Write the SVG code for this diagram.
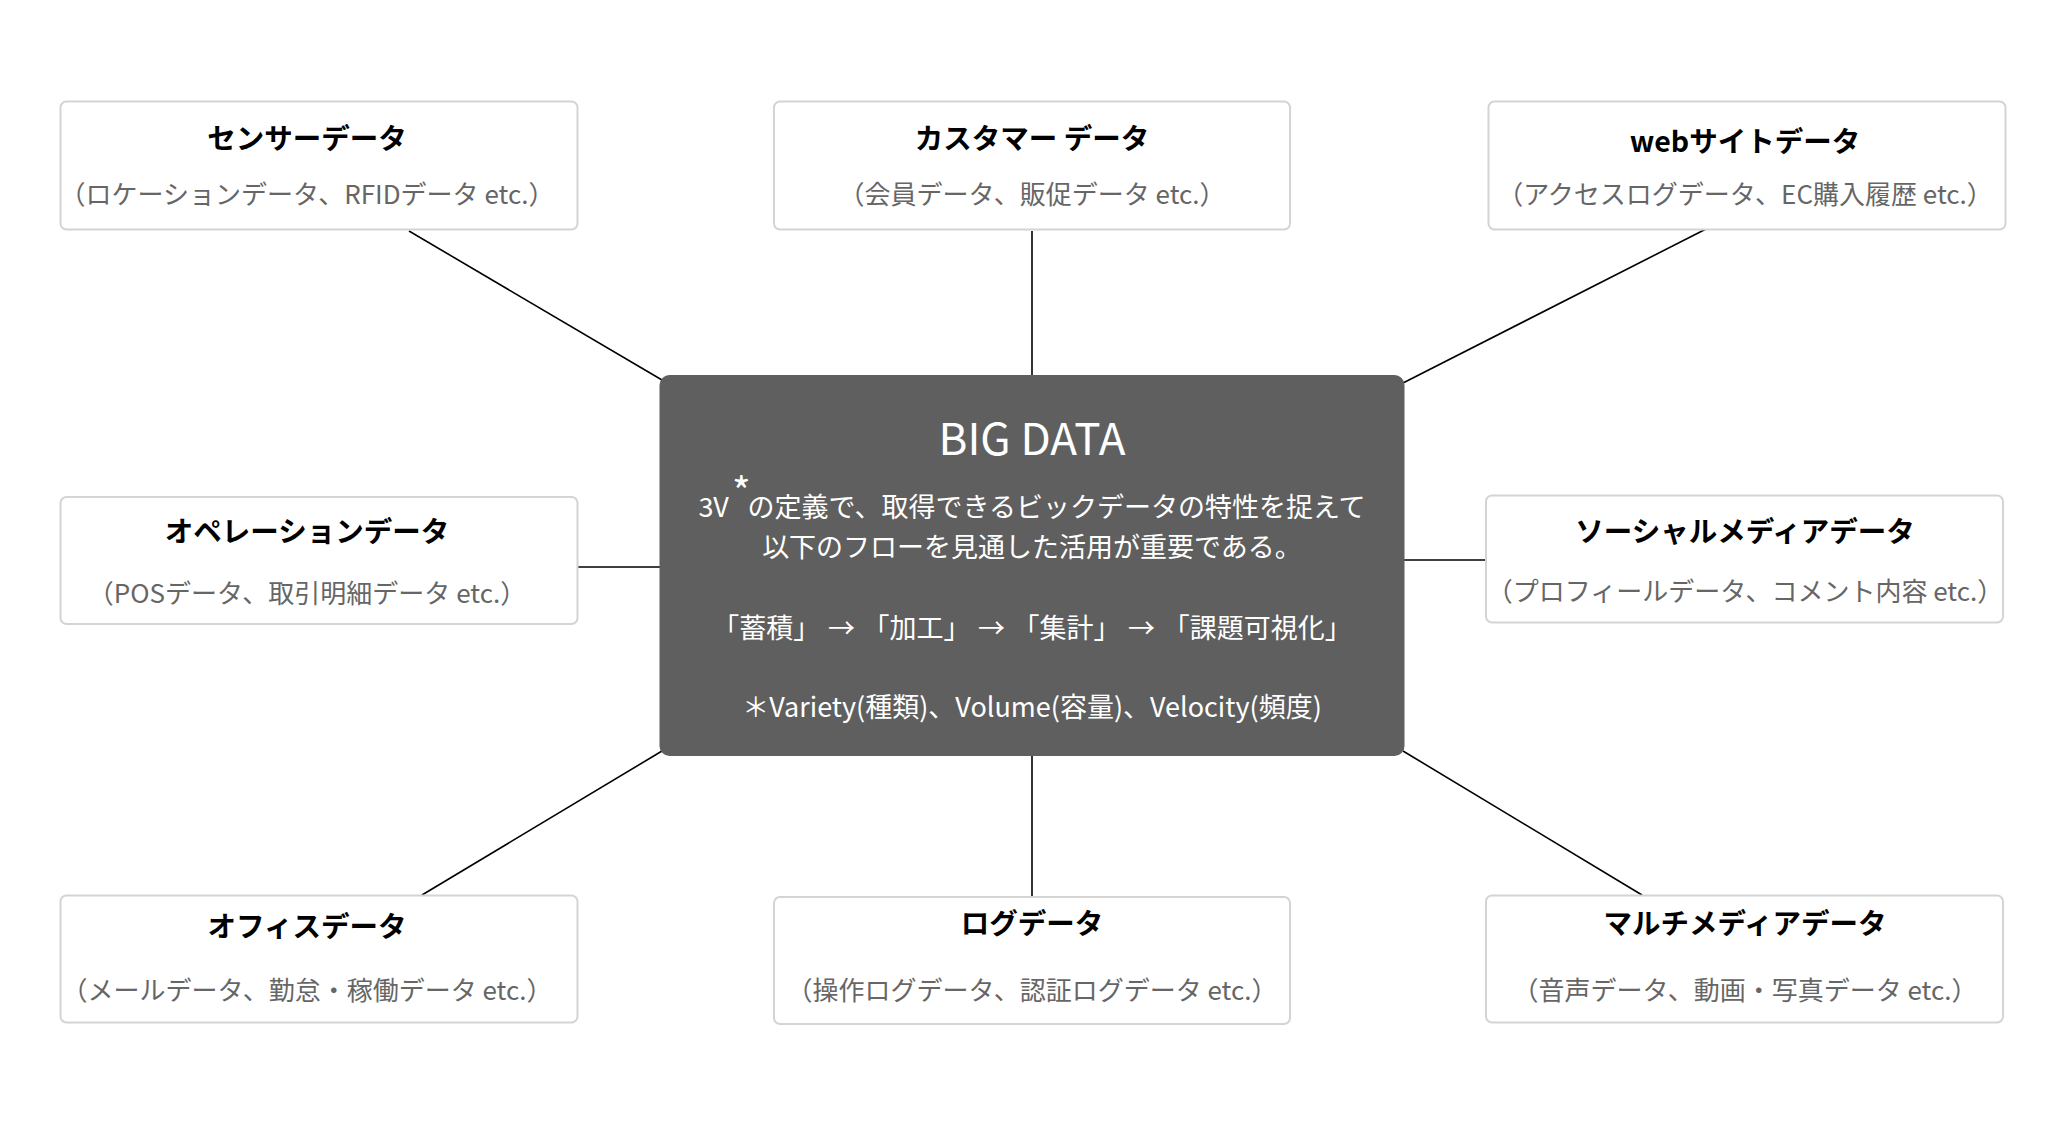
<svg xmlns="http://www.w3.org/2000/svg" width="2056" height="1140" viewBox="0 0 2056 1140">
<style>
text{font-family:"Noto Sans CJK JP","Noto Sans",sans-serif;text-anchor:middle}
.box{fill:#fff;stroke:#d4d4d4;stroke-width:2}
.t{font-size:28.5px;font-weight:700;fill:#000}
.s{font-size:26px;fill:#666}
.c{font-size:27px;fill:#fff}
.conn line{stroke:#000;stroke-width:1.6}
</style>
<rect width="2056" height="1140" fill="#fff"/>
<g class="conn" id="connectors">
<line x1="409" y1="231" x2="662" y2="380"/>
<line x1="1032" y1="231" x2="1032" y2="376"/>
<line x1="1706" y1="229" x2="1403" y2="383"/>
<line x1="578" y1="567" x2="660" y2="567"/>
<line x1="1404" y1="560" x2="1486" y2="560"/>
<line x1="422" y1="895" x2="662" y2="751"/>
<line x1="1032" y1="755" x2="1032" y2="897"/>
<line x1="1403" y1="751" x2="1642" y2="895"/>
</g>
<g id="sensor">
<rect class="box" x="60.5" y="101.5" width="517" height="128" rx="6"/>
<text class="t" x="307" y="149">センサーデータ</text>
<text class="s" x="307" y="204">（ロケーションデータ、RFIDデータ etc.）</text>
</g>
<g id="customer">
<rect class="box" x="774" y="101.5" width="516" height="128" rx="6"/>
<text class="t" x="1032" y="149">カスタマー データ</text>
<text class="s" x="1032" y="204">（会員データ、販促データ etc.）</text>
</g>
<g id="web">
<rect class="box" x="1488.5" y="101.5" width="517" height="128" rx="6"/>
<text class="t" x="1745" y="151.5">webサイトデータ</text>
<text class="s" x="1745" y="204">（アクセスログデータ、EC購入履歴 etc.）</text>
</g>
<g id="operation">
<rect class="box" x="60.5" y="497" width="517" height="127" rx="6"/>
<text class="t" x="307" y="542">オペレーションデータ</text>
<text class="s" x="307" y="602.5">（POSデータ、取引明細データ etc.）</text>
</g>
<g id="social">
<rect class="box" x="1486" y="495.5" width="517" height="127" rx="6"/>
<text class="t" x="1745" y="542">ソーシャルメディアデータ</text>
<text class="s" x="1745" y="601">（プロフィールデータ、コメント内容 etc.）</text>
</g>
<g id="office">
<rect class="box" x="60.5" y="895.5" width="517" height="127" rx="6"/>
<text class="t" x="307" y="937">オフィスデータ</text>
<text class="s" x="307" y="1000">（メールデータ、勤怠・稼働データ etc.）</text>
</g>
<g id="log">
<rect class="box" x="774" y="897" width="516" height="127" rx="6"/>
<text class="t" x="1032" y="934">ログデータ</text>
<text class="s" x="1032" y="1000">（操作ログデータ、認証ログデータ etc.）</text>
</g>
<g id="multimedia">
<rect class="box" x="1486" y="895.5" width="517" height="127" rx="6"/>
<text class="t" x="1745" y="934">マルチメディアデータ</text>
<text class="s" x="1745" y="1000">（音声データ、動画・写真データ etc.）</text>
</g>
<g id="bigdata">
<rect x="659.5" y="375" width="745" height="381" rx="10" fill="#5f5f5f"/>
<text x="1032" y="455" font-size="44" fill="#fff">BIG DATA</text>
<text class="c" x="1032" y="517">3V<tspan dx="3" dy="-10" font-size="40">*</tspan><tspan dx="-3" dy="10">の定義で、取得できるビックデータの特性を捉えて</tspan></text>
<text class="c" x="1032" y="556.5">以下のフローを見通した活用が重要である。</text>
<text class="c" x="1032" y="638" font-size="25" word-spacing="1.5">「蓄積」 → 「加工」 → 「集計」 → 「課題可視化」</text>
<text class="c" x="1032" y="717" font-size="22">＊Variety(種類)、Volume(容量)、Velocity(頻度)</text>
</g>
</svg>
